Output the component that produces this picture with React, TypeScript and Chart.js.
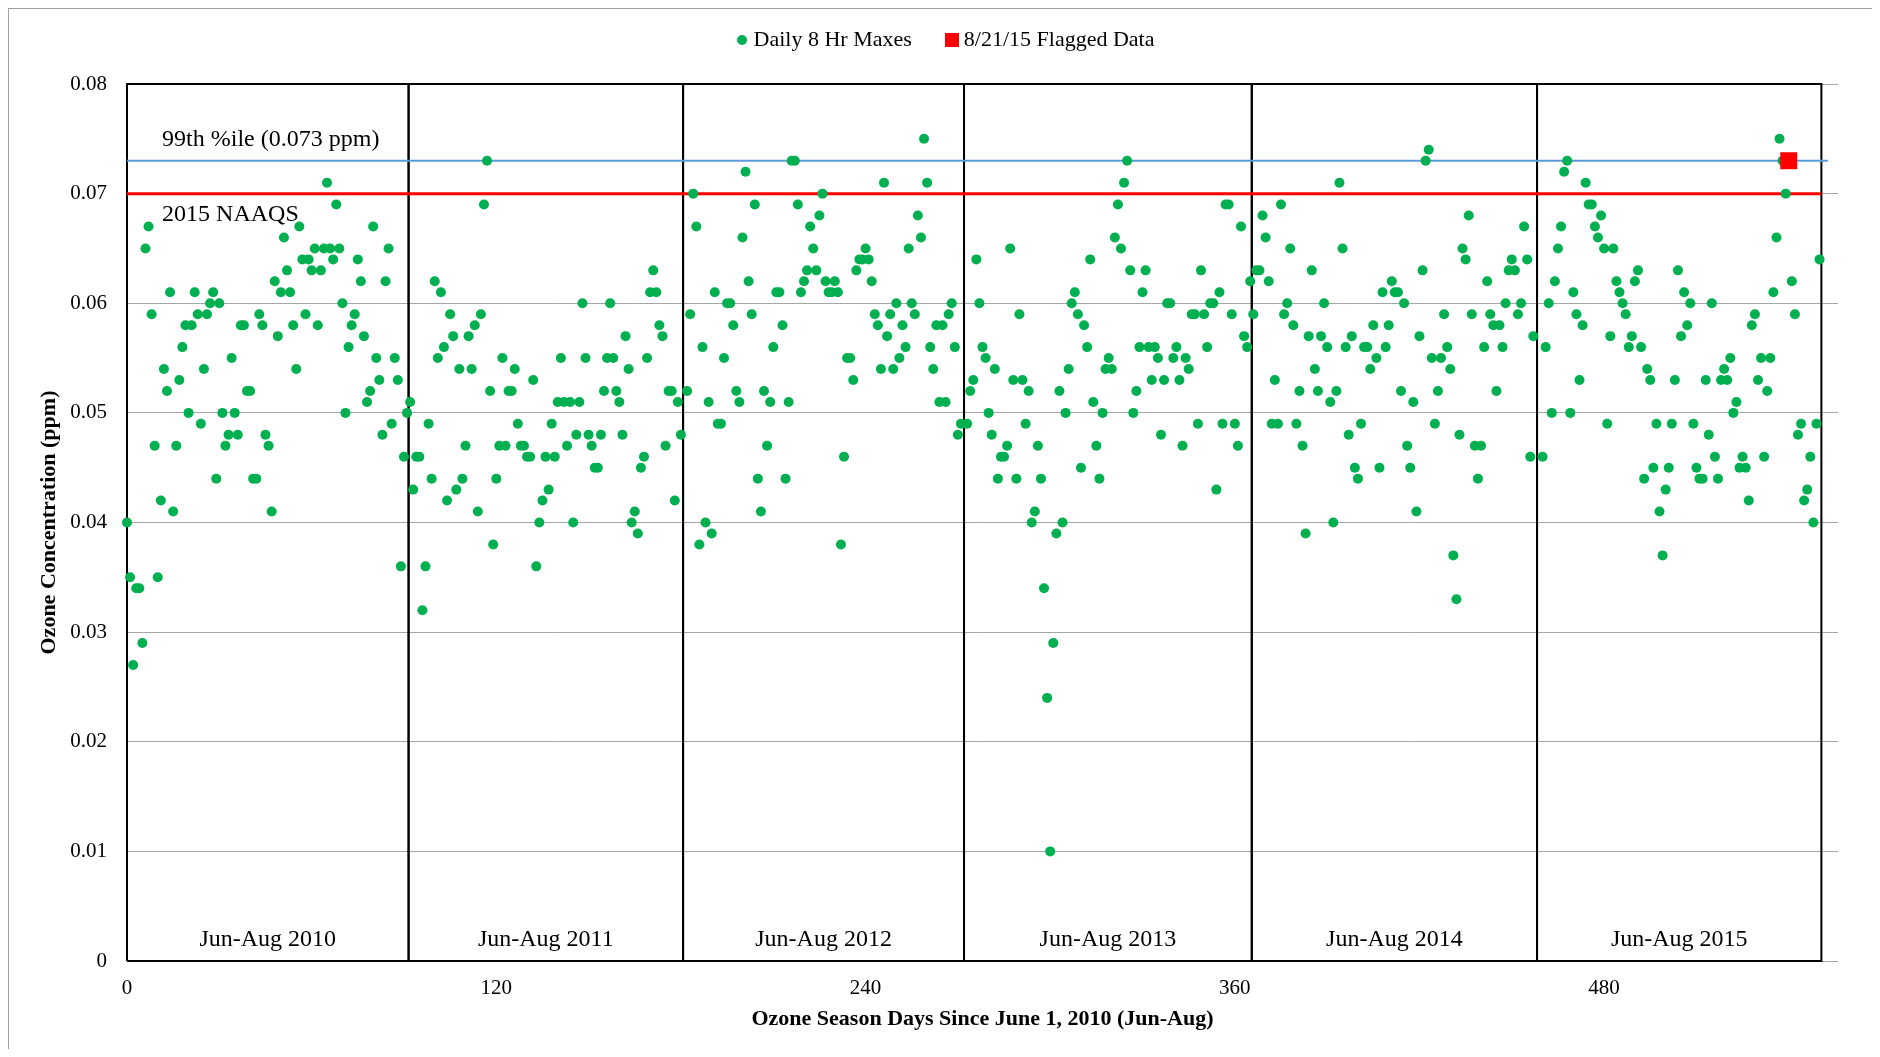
import React, { useEffect, useRef } from 'react';
import { Chart, registerables } from 'chart.js';

Chart.register(...registerables);

const FONT = "'Liberation Serif', 'Times New Roman', serif";
const GREEN = '#00b050';
const RED = '#ff0000';
const BLUE = '#5b9bd5';

// ---- data ----
const legendLabels = ['Daily 8 Hr Maxes', '8/21/15 Flagged Data'];
const xTitle = 'Ozone Season Days Since June 1, 2010 (Jun-Aug)';
const yTitle = 'Ozone Concentration (ppm)';
const seasonLabels = ['Jun-Aug 2010', 'Jun-Aug 2011', 'Jun-Aug 2012', 'Jun-Aug 2013', 'Jun-Aug 2014', 'Jun-Aug 2015'];
const seasonStartDays = [0, 92, 182, 273, 366, 460];
const seasonEdges = [0, 91.5, 180.7, 272, 365.5, 458.2, 550.6];
const xAxisMax = 556;
const xTickStep = 120;
const yAxisMax = 0.08;
const yTickStep = 0.01;

const season2010 = [
  0.040, 0.035, 0.027, 0.034, 0.034, 0.029, 0.065, 0.067, 0.059, 0.047,
  0.035, 0.042, 0.054, 0.052, 0.061, 0.041, 0.047, 0.053, 0.056, 0.058,
  0.050, 0.058, 0.061, 0.059, 0.049, 0.054, 0.059, 0.060, 0.061, 0.044,
  0.060, 0.050, 0.047, 0.048, 0.055, 0.050, 0.048, 0.058, 0.058, 0.052,
  0.052, 0.044, 0.044, 0.059, 0.058, 0.048, 0.047, 0.041, 0.062, 0.057,
  0.061, 0.066, 0.063, 0.061, 0.058, 0.054, 0.067, 0.064, 0.059, 0.064,
  0.063, 0.065, 0.058, 0.063, 0.065, 0.071, 0.065, 0.064, 0.069, 0.065,
  0.060, 0.050, 0.056, 0.058, 0.059, 0.064, 0.062, 0.057, 0.051, 0.052,
  0.067, 0.055, 0.053, 0.048, 0.062, 0.065, 0.049, 0.055, 0.053, 0.036,
  0.046, 0.050,
];
const season2011 = [
  0.051, 0.043, 0.046, 0.046, 0.032, 0.036, 0.049, 0.044, 0.062, 0.055,
  0.061, 0.056, 0.042, 0.059, 0.057, 0.043, 0.054, 0.044, 0.047, 0.057,
  0.054, 0.058, 0.041, 0.059, 0.069, 0.073, 0.052, 0.038, 0.044, 0.047,
  0.055, 0.047, 0.052, 0.052, 0.054, 0.049, 0.047, 0.047, 0.046, 0.046,
  0.053, 0.036, 0.040, 0.042, 0.046, 0.043, 0.049, 0.046, 0.051, 0.055,
  0.051, 0.047, 0.051, 0.040, 0.048, 0.051, 0.060, 0.055, 0.048, 0.047,
  0.045, 0.045, 0.048, 0.052, 0.055, 0.060, 0.055, 0.052, 0.051, 0.048,
  0.057, 0.054, 0.040, 0.041, 0.039, 0.045, 0.046, 0.055, 0.061, 0.063,
  0.061, 0.058, 0.057, 0.047, 0.052, 0.052, 0.042, 0.051, 0.048,
];
const season2012 = [
  0.052, 0.059, 0.070, 0.067, 0.038, 0.056, 0.040, 0.051, 0.039, 0.061,
  0.049, 0.049, 0.055, 0.060, 0.060, 0.058, 0.052, 0.051, 0.066, 0.072,
  0.062, 0.059, 0.069, 0.044, 0.041, 0.052, 0.047, 0.051, 0.056, 0.061,
  0.061, 0.058, 0.044, 0.051, 0.073, 0.073, 0.069, 0.061, 0.062, 0.063,
  0.067, 0.065, 0.063, 0.068, 0.070, 0.062, 0.061, 0.061, 0.062, 0.061,
  0.038, 0.046, 0.055, 0.055, 0.053, 0.063, 0.064, 0.064, 0.065, 0.064,
  0.062, 0.059, 0.058, 0.054, 0.071, 0.057, 0.059, 0.054, 0.060, 0.055,
  0.058, 0.056, 0.065, 0.060, 0.059, 0.068, 0.066, 0.075, 0.071, 0.056,
  0.054, 0.058, 0.051, 0.058, 0.051, 0.059, 0.060, 0.056, 0.048, 0.049,
];
const season2013 = [
  0.049, 0.052, 0.053, 0.064, 0.060, 0.056, 0.055, 0.050, 0.048, 0.054,
  0.044, 0.046, 0.046, 0.047, 0.065, 0.053, 0.044, 0.059, 0.053, 0.049,
  0.052, 0.040, 0.041, 0.047, 0.044, 0.034, 0.024, 0.010, 0.029, 0.039,
  0.052, 0.040, 0.050, 0.054, 0.060, 0.061, 0.059, 0.045, 0.058, 0.056,
  0.064, 0.051, 0.047, 0.044, 0.050, 0.054, 0.055, 0.054, 0.066, 0.069,
  0.065, 0.071, 0.073, 0.063, 0.050, 0.052, 0.056, 0.061, 0.063, 0.056,
  0.053, 0.056, 0.055, 0.048, 0.053, 0.060, 0.060, 0.055, 0.056, 0.053,
  0.047, 0.055, 0.054, 0.059, 0.059, 0.049, 0.063, 0.059, 0.056, 0.060,
  0.060, 0.043, 0.061, 0.049, 0.069, 0.069, 0.059, 0.049, 0.047, 0.067,
  0.057, 0.056, 0.062,
];
const season2014 = [
  0.059, 0.063, 0.063, 0.068, 0.066, 0.062, 0.049, 0.053, 0.049, 0.069,
  0.059, 0.060, 0.065, 0.058, 0.049, 0.052, 0.047, 0.039, 0.057, 0.063,
  0.054, 0.052, 0.057, 0.060, 0.056, 0.051, 0.040, 0.052, 0.071, 0.065,
  0.056, 0.048, 0.057, 0.045, 0.044, 0.049, 0.056, 0.056, 0.054, 0.058,
  0.055, 0.045, 0.061, 0.056, 0.058, 0.062, 0.061, 0.061, 0.052, 0.060,
  0.047, 0.045, 0.051, 0.041, 0.057, 0.063, 0.073, 0.074, 0.055, 0.049,
  0.052, 0.055, 0.059, 0.056, 0.054, 0.037, 0.033, 0.048, 0.065, 0.064,
  0.068, 0.059, 0.047, 0.044, 0.047, 0.056, 0.062, 0.059, 0.058, 0.052,
  0.058, 0.056, 0.060, 0.063, 0.064, 0.063, 0.059, 0.060, 0.067, 0.064,
  0.046, 0.057,
];
const season2015 = [
  0.046, 0.056, 0.060, 0.050, 0.062, 0.065, 0.067, 0.072, 0.073, 0.050,
  0.061, 0.059, 0.053, 0.058, 0.071, 0.069, 0.069, 0.067, 0.066, 0.068,
  0.065, 0.049, 0.057, 0.065, 0.062, 0.061, 0.060, 0.059, 0.056, 0.057,
  0.062, 0.063, 0.056, 0.044, 0.054, 0.053, 0.045, 0.049, 0.041, 0.037,
  0.043, 0.045, 0.049, 0.053, 0.063, 0.057, 0.061, 0.058, 0.060, 0.049,
  0.045, 0.044, 0.044, 0.053, 0.048, 0.060, 0.046, 0.044, 0.053, 0.054,
  0.053, 0.055, 0.050, 0.051, 0.045, 0.046, 0.045, 0.042, 0.058, 0.059,
  0.053, 0.055, 0.046, 0.052, 0.055, 0.061, 0.066, 0.075, 0.073, 0.070,
  0.073, 0.062, 0.059, 0.048, 0.049, 0.042, 0.043, 0.046, 0.040, 0.049,
  0.064,
];
const flaggedDay = 540;
const flaggedValue = 0.073;

const percentile99 = 0.073;
const percentileLineEnd = 552.7;
const naaqs2015 = 0.07;
const naaqsLineEnd = 550.6;

const annotationTexts = ['99th %ile (0.073 ppm)', '2015 NAAQS'];
const annotationX = [11.4, 11.4];
const annotationY = [0.0743, 0.0675];
const seasonLabelLevel = 0.0019;

const seasons = [season2010, season2011, season2012, season2013, season2014, season2015];

export default function App() {
  const ref = useRef<HTMLCanvasElement>(null);

  useEffect(() => {
    const canvas = ref.current;
    if (!canvas) return;

    const makeIcon = (w: number, h: number, draw: (g: CanvasRenderingContext2D) => void) => {
      const c = document.createElement('canvas');
      c.width = w;
      c.height = h;
      const g = c.getContext('2d');
      if (g) draw(g);
      return c;
    };
    const greenIcon = makeIcon(10, 10, (g) => {
      g.fillStyle = GREEN;
      g.beginPath();
      g.arc(5, 5, 5, 0, Math.PI * 2);
      g.fill();
    });
    const redIcon = makeIcon(14, 14, (g) => {
      g.fillStyle = RED;
      g.fillRect(0, 0, 14, 14);
    });

    const greenPoints = seasons.flatMap((vals, s) =>
      vals.map((v, i) => ({ x: seasonStartDays[s] + i, y: v }))
    );

    const boxDatasets = seasonLabels.map((lbl, i) => {
      const a = seasonEdges[i];
      const b = seasonEdges[i + 1];
      return {
        label: 'box ' + lbl,
        data: [
          { x: a, y: 0 },
          { x: a, y: yAxisMax },
          { x: b, y: yAxisMax },
          { x: b, y: 0 },
          { x: a, y: 0 },
        ],
        showLine: true,
        borderColor: '#000000',
        borderWidth: 2,
        pointRadius: 0,
        fill: false,
        order: 3,
        clip: false as const,
        xAxisID: 'x',
        yAxisID: 'y',
      };
    });

    const textPlugin = {
      id: 'textPlugin',
      afterDatasetsDraw(chart: any) {
        const { ctx } = chart;
        const xs = chart.scales.x;
        const ys = chart.scales.y;
        ctx.save();
        ctx.fillStyle = '#000000';
        ctx.font = `24px ${FONT}`;
        ctx.textAlign = 'left';
        ctx.textBaseline = 'alphabetic';
        annotationTexts.forEach((t, i) => {
          ctx.fillText(t, xs.getPixelForValue(annotationX[i]), ys.getPixelForValue(annotationY[i]));
        });
        ctx.textAlign = 'center';
        ctx.textBaseline = 'middle';
        seasonLabels.forEach((t, i) => {
          const cx = (seasonEdges[i] + seasonEdges[i + 1]) / 2;
          ctx.fillText(t, xs.getPixelForValue(cx), ys.getPixelForValue(seasonLabelLevel));
        });
        ctx.restore();
      },
    };

    const legendShift = {
      id: 'legendShift',
      afterLayout(chart: any) {
        const lg = chart.legend;
        if (lg) {
          lg.top -= 20;
          lg.bottom -= 20;
          lg.left += 6;
          lg.right += 6;
        }
      },
    };

    const chart = new Chart(canvas, {
      type: 'scatter',
      data: {
        datasets: [
          {
            label: legendLabels[0],
            data: greenPoints,
            pointStyle: 'circle',
            pointRadius: 5,
            pointBorderWidth: 0,
            backgroundColor: GREEN,
            borderColor: GREEN,
            order: 1,
            clip: false as const,
            xAxisID: 'x',
            yAxisID: 'y',
          },
          {
            label: legendLabels[1],
            data: [{ x: flaggedDay, y: flaggedValue }],
            pointStyle: 'rect',
            pointRadius: 12,
            pointBorderWidth: 0,
            backgroundColor: RED,
            borderColor: RED,
            order: 0,
            clip: false as const,
            xAxisID: 'x',
            yAxisID: 'y',
          },
          {
            label: '99th percentile',
            data: [
              { x: 0, y: percentile99 },
              { x: percentileLineEnd, y: percentile99 },
            ],
            showLine: true,
            borderColor: BLUE,
            borderWidth: 2,
            pointRadius: 0,
            order: 2,
            clip: false as const,
            xAxisID: 'x',
            yAxisID: 'y',
          },
          {
            label: '2015 NAAQS',
            data: [
              { x: 0, y: naaqs2015 },
              { x: naaqsLineEnd, y: naaqs2015 },
            ],
            showLine: true,
            borderColor: RED,
            borderWidth: 3,
            pointRadius: 0,
            order: 2,
            clip: false as const,
            xAxisID: 'x',
            yAxisID: 'y',
          },
          ...boxDatasets,
        ] as any,
      },
      options: {
        responsive: false,
        animation: false,
        events: [],
        layout: { padding: { top: 0, left: 0, right: 0, bottom: 0 } },
        plugins: {
          tooltip: { enabled: false },
          legend: {
            display: true,
            position: 'top',
            labels: {
              usePointStyle: true,
              boxWidth: 1,
              padding: 40,
              color: '#000000',
              font: { family: FONT, size: 22 },
              filter: (item: any) => item.datasetIndex <= 1,
              sort: (a: any, b: any) => a.datasetIndex - b.datasetIndex,
              generateLabels: (ch: any) => {
                const items = (Chart.defaults.plugins.legend.labels as any).generateLabels(ch);
                items.forEach((it: any) => {
                  if (it.datasetIndex === 0) it.pointStyle = greenIcon;
                  if (it.datasetIndex === 1) it.pointStyle = redIcon;
                });
                return items;
              },
            },
          },
        },
        scales: {
          x: {
            type: 'linear',
            position: 'bottom',
            min: 0,
            max: xAxisMax,
            ticks: {
              stepSize: xTickStep,
              includeBounds: false,
              padding: 15,
              maxRotation: 0,
              color: '#000000',
              font: { family: FONT, size: 21 },
            },
            grid: { display: false, drawTicks: false },
            border: { display: false },
            title: {
              display: true,
              text: xTitle,
              color: '#000000',
              font: { family: FONT, size: 22, weight: 'bold' },
              padding: { top: 0, bottom: 16 },
            },
            afterFit: (s: any) => {
              s.height = 88;
            },
          },
          x2: {
            type: 'linear',
            position: 'top',
            min: 0,
            max: 1,
            ticks: { display: false },
            grid: { display: false, drawTicks: false },
            border: { display: false },
            afterFit: (s: any) => {
              s.height = 3;
            },
          },
          y: {
            type: 'linear',
            position: 'left',
            min: 0,
            max: yAxisMax,
            ticks: {
              stepSize: yTickStep,
              padding: 20,
              color: '#000000',
              font: { family: FONT, size: 21 },
              callback: (v: any) => (Number(v) === 0 ? '0' : Number(v).toFixed(2)),
            },
            grid: { color: '#a6a6a6', lineWidth: 1, drawTicks: false },
            border: { display: false },
            title: {
              display: true,
              text: yTitle,
              color: '#000000',
              font: { family: FONT, size: 22, weight: 'bold' },
              padding: { top: 27, bottom: 0 },
            },
            afterFit: (s: any) => {
              s.width = 118;
            },
          },
          y2: {
            type: 'linear',
            position: 'right',
            min: 0,
            max: 1,
            ticks: { display: false },
            grid: { display: false, drawTicks: false },
            border: { display: false },
            afterFit: (s: any) => {
              s.width = 37;
            },
          },
        },
      } as any,
      plugins: [legendShift, textPlugin],
    });

    return () => {
      chart.destroy();
    };
  }, []);

  return (
    <div
      style={{
        width: 1866,
        height: 1040,
        border: '1px solid #a0a0a0',
        borderBottom: 'none',
        background: '#ffffff',
      }}
    >
      <canvas ref={ref} width={1866} height={1040} style={{ display: 'block' }} />
    </div>
  );
}
